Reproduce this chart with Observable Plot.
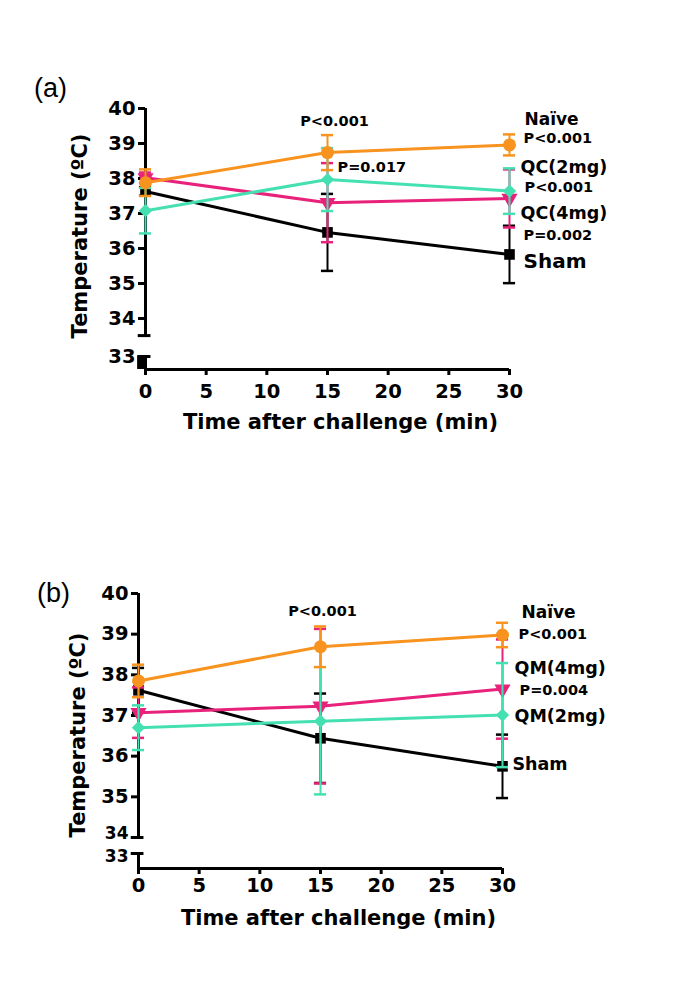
<!DOCTYPE html>
<html><head><meta charset="utf-8">
<script src="https://cdn.jsdelivr.net/npm/d3@7"></script>
<script src="https://cdn.jsdelivr.net/npm/@observablehq/plot@0.6"></script>
<style>
body{margin:0;background:#fff;width:685px;height:996px;position:relative;overflow:hidden}
.panel{position:absolute;left:0}
.tag{position:absolute;font-family:"Liberation Sans",Arial,sans-serif;font-size:27px;line-height:32px}
</style></head><body>
<div id="pa" class="panel" style="top:0"></div>
<div id="pb" class="panel" style="top:480px"></div>
<div class="tag" style="left:34px;top:72px">(a)</div>
<div class="tag" style="left:37px;top:577px">(b)</div>
<script>
// ---- data ----
const times = [0, 15, 30];
const xTicks = [0, 5, 10, 15, 20, 25, 30];
const yTicksUpper = [35, 36, 37, 38, 39, 40];
const yTicksLow = [33, 34];

// Panel (a)
const shamA = [37.63, 36.46, 35.83];
const shamAErr = [0.12, 1.1, 0.82];
const naiveA = [37.88, 38.74, 38.96];
const naiveAErr = [0.38, 0.5, 0.3];
const qc2A = [37.08, 37.97, 37.64];
const qc2AErr = [0.65, 0.9, 0.65];
const qc4A = [38.02, 37.31, 37.43];
const qc4AErr = [0.15, 1.13, 0.83];
const labelsA = ["Naïve", "P<0.001", "QC(2mg)", "P<0.001", "QC(4mg)", "P=0.002", "Sham"];
const labelsAY = [39.69, 39.14, 38.31, 37.74, 37.0, 36.37, 35.63];
const pTextA = ["P<0.001", "P=0.017"];
const pTextAY = [39.63, 38.31];

// Panel (b)
const shamB = [37.62, 36.44, 35.75];
const shamBErr = [0.55, 1.1, 0.78];
const naiveB = [37.85, 38.69, 38.98];
const naiveBErr = [0.4, 0.5, 0.3];
const qm2B = [36.7, 36.86, 37.01];
const qm2BErr = [0.55, 1.8, 1.28];
const qm4B = [37.07, 37.23, 37.65];
const qm4BErr = [0.62, 1.9, 1.22];
const labelsB = ["Naïve", "P<0.001", "QM(4mg)", "P=0.004", "QM(2mg)", "Sham"];
const labelsBY = [39.52, 39.0, 38.17, 37.63, 36.99, 35.81];
const pTextB = ["P<0.001"];
const pTextBY = [39.57];

// ---- styling ----
const BLACK = "#000000", PINK = "#e8227a", TEAL = "#45e0b2", ORANGE = "#f7931e";
const FONT = "DejaVu Sans, Liberation Sans, sans-serif";
const labelSize = t => t.startsWith("P") ? 14.5 : (t === "Naïve" ? 17 : 17.5);

function rows(v, e) { return times.map((t, i) => ({t, v: v[i], e: e[i]})); }

function seriesMarks(data, color, symbol, r, rotate) {
  return [
    Plot.ruleX(data, {x: "t", y1: d => d.v - d.e, y2: d => d.v + d.e, stroke: color, strokeWidth: 2}),
    Plot.ruleY(data, {y: d => d.v + d.e, x1: d => d.t - 0.5, x2: d => d.t + 0.5, stroke: color, strokeWidth: 2.5}),
    Plot.ruleY(data, {y: d => d.v - d.e, x1: d => d.t - 0.5, x2: d => d.t + 0.5, stroke: color, strokeWidth: 2.5}),
    Plot.line(data, {x: "t", y: "v", stroke: color, strokeWidth: 3}),
    Plot.dot(data, {x: "t", y: "v", symbol, r, fill: color, stroke: null, rotate})
  ];
}

function panel(cfg) {
  const bottom = cfg.yDomain[0];
  const labelMarks = cfg.labels.map((t, i) => Plot.text([t], {
    x: () => 30, y: () => cfg.labelsY[i], text: d => d, textAnchor: "start", lineAnchor: "middle",
    dx: cfg.labelDx[i], fontSize: t === "Sham" ? cfg.shamSize : labelSize(t), fontWeight: "bold", fill: BLACK
  }));
  const pMarks = cfg.pText.map((t, i) => Plot.text([t], {
    x: () => 15, y: () => cfg.pTextY[i], text: d => d, textAnchor: i === 0 ? "middle" : "start",
    dx: i === 0 ? cfg.pDx : 10, lineAnchor: "middle", fontSize: 14.5, fontWeight: "bold", fill: BLACK
  }));
  const axisOpts = {tickSize: 7, tickPadding: 3, strokeWidth: 3, label: null, tickFormat: d => String(d)};
  const lowAxis = cfg.splitLow
    ? [
        Plot.axisY({...axisOpts, ticks: yTicksLow, tickFormat: () => ""}),
        ...yTicksLow.map((v, i) => Plot.text([String(v)], {
          x: () => 0, y: () => v, text: d => d, dx: -10, dy: cfg.lowDy[i], textAnchor: "end",
          lineAnchor: "middle", fontSize: 17, fontWeight: "bold", fill: BLACK
        }))
      ]
    : [Plot.axisY({...axisOpts, ticks: yTicksLow})];
  return Plot.plot({
    width: 685,
    height: cfg.height,
    marginTop: cfg.mt, marginBottom: cfg.mb, marginLeft: cfg.ml, marginRight: cfg.mr,
    style: {fontFamily: FONT, fontWeight: "bold", fontSize: "19.5px", color: "#000", background: "#fff"},
    x: {domain: [0, 30]},
    y: {type: "linear", domain: cfg.yDomain, range: cfg.yRange},
    marks: [
      Plot.axisY({...axisOpts, ticks: yTicksUpper}),
      ...lowAxis,
      Plot.axisX({ticks: xTicks, tickSize: 6, tickPadding: cfg.xPad, strokeWidth: 3, label: null, tickFormat: d => String(d)}),
      // y axis line (broken)
      Plot.ruleX([0], {y1: 40, y2: cfg.breakTop, stroke: BLACK, strokeWidth: 3}),
      Plot.ruleY([cfg.breakTop], {x1: -0.6, x2: 0.45, stroke: BLACK, strokeWidth: 3}),
      Plot.ruleX([0], {y1: 33, y2: bottom, stroke: BLACK, strokeWidth: 3}),
      Plot.ruleY([33], {x1: -0.6, x2: 0.45, stroke: BLACK, strokeWidth: 3}),
      ...(cfg.block ? [Plot.rect([0], {x1: -0.65, x2: 0.05, y1: bottom, y2: 33.02, fill: BLACK})] : []),
      // x axis line
      Plot.ruleY([bottom], {x1: 0, x2: 30, stroke: BLACK, strokeWidth: 3}),
      ...seriesMarks(rows(cfg.sham, cfg.shamErr), BLACK, "square", 6, 0),
      ...seriesMarks(rows(cfg.pink, cfg.pinkErr), PINK, "triangle", 6, 180),
      ...seriesMarks(rows(cfg.teal, cfg.tealErr), TEAL, "diamond2", 6, 0),
      ...seriesMarks(rows(cfg.orange, cfg.orangeErr), ORANGE, "circle", 6.5, 0),
      ...labelMarks,
      ...pMarks,
      Plot.text(["Temperature (ºC)"], {frameAnchor: "left", dx: cfg.yTitleDx, dy: cfg.yTitleDy, rotate: -90, textAnchor: "middle", lineAnchor: "middle", fontSize: 21, fontWeight: "bold"}),
      Plot.text(["Time after challenge (min)"], {frameAnchor: "bottom", dx: cfg.xTitleDx, dy: cfg.xTitleDy, textAnchor: "middle", lineAnchor: "middle", fontSize: 21, fontWeight: "bold"})
    ]
  });
}

document.getElementById("pa").append(panel({
  height: 480, mt: 108, mb: 111, ml: 145, mr: 176,
  yDomain: [32.6, 33, 34, 40], yRange: [369, 356, 318, 108],
  breakTop: 33.55, block: true, xPad: 9, splitLow: false,
  sham: shamA, shamErr: shamAErr, pink: qc4A, pinkErr: qc4AErr,
  teal: qc2A, tealErr: qc2AErr, orange: naiveA, orangeErr: naiveAErr,
  labels: labelsA, labelsY: labelsAY, labelDx: [15, 14, 11, 15, 11, 14, 14], shamSize: 20,
  pText: pTextA, pTextY: pTextAY, pDx: 7,
  yTitleDx: -65, yTitleDy: -3, xTitleDx: 13, xTitleDy: 53
}));

document.getElementById("pb").append(panel({
  height: 516, mt: 113, mb: 128, ml: 138, mr: 183,
  yDomain: [32.1, 33, 34, 40], yRange: [388, 373, 357, 113],
  breakTop: 34, block: false, xPad: 4, splitLow: true, lowDy: [3, -4],
  sham: shamB, shamErr: shamBErr, pink: qm4B, pinkErr: qm4BErr,
  teal: qm2B, tealErr: qm2BErr, orange: naiveB, orangeErr: naiveBErr,
  labels: labelsB, labelsY: labelsBY, labelDx: [19, 16, 12, 17, 12, 10], shamSize: 17.5,
  pText: pTextB, pTextY: pTextBY, pDx: 2,
  yTitleDx: -60, yTitleDy: 4, xTitleDx: 18, xTitleDy: 50
}));
</script>
</body></html>
